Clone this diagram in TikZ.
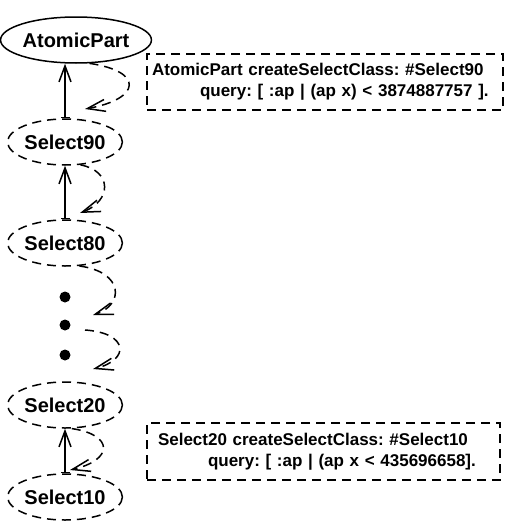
\documentclass[tikz,border=0pt]{standalone}
\usepackage{fontspec}
\setmainfont{Liberation Sans}
\usetikzlibrary{shapes.geometric, arrows.meta}

\begin{document}
\frenchspacing
\begin{tikzpicture}[x=1pt, y=-1pt,
		classnode/.style={draw, ellipse, line width=1.5pt, minimum width=106pt, minimum height=46pt, inner sep=0pt, font=\fontsize{20}{23}\selectfont\bfseries},
		selnode/.style={classnode, dash pattern=on 9pt off 6pt},
		skipdot/.style={circle, fill, inner sep=0pt, minimum size=11pt},
		subarrow/.style={line width=1.5pt, {Bar[width=9pt]}-{Straight Barb[length=16pt, width=12pt]}},
		makearrow/.style={line width=1.5pt, dash pattern=on 9pt off 6pt, -{Straight Barb[length=18pt, width=12pt]}},
		notebox/.style={draw, line width=1.5pt, dash pattern=on 9pt off 6pt, align=left, font=\fontsize{17}{21}\selectfont\bfseries}]
				\useasboundingbox (0,0) rectangle (509,522);
				
				% Draw the classes
				\node[classnode, minimum width=126pt] (atomic) at (76,40) {AtomicPart};
				\node[selnode] (s90) at (65,142) {Select90};
				\node[selnode] (s80) at (65,243) {Select80};
				\node[selnode] (s20) at (65,405) {Select20};
				\node[selnode] (s10) at (65,497) {Select10};
				
				% Dots for the left out classes
				\foreach \y/\n in {297/1, 325/2, 355/3}
					\node[skipdot] (dot\n) at (65,\y) {};
				
				% Subclass arrows
				\draw[subarrow] (s90.north) -- (s90.north |- atomic.south);
				\draw[subarrow] (s80.north) -- (s90.south);
				\draw[subarrow] (s10.north) -- (s20.south);
				
				% Ends of the createSelectClass arrows
				\coordinate (tip1) at (85,109);
				\coordinate (tip2) at (80,213);
				\coordinate (tip3) at (93,315);
				\coordinate (from4) at (85,330);
				\coordinate (tip4) at (93,369);
				\coordinate (tip5) at (70,470);
				
				\draw[makearrow] (atomic.-60) .. controls +(55,8) and +(56,-10) .. (tip1);
				\draw[makearrow] (s90.-56) .. controls +(32,6) and +(32,-12) .. (tip2);
				\draw[makearrow] (s80.-58) .. controls +(45,6) and +(31,-10) .. (tip3);
				\draw[makearrow] (from4) .. controls +(44,3) and +(37,-9) .. (tip4);
				\draw[makearrow] (s20.-74) .. controls +(42,6) and +(44,-10) .. (tip5);
				
				% Notes with the queries
				\node[notebox, minimum width=356pt, minimum height=56pt, inner xsep=5pt, text width=346pt] (q90) at (325,82)
					{AtomicPart createSelectClass: \#Select90\\\hspace*{48pt}query: [ :ap | (ap x) < 3874887757 ].};
				\node[notebox, minimum width=353pt, minimum height=57pt, inner xsep=11pt, text width=331pt] (q10) at (323.5,451.5)
					{Select20 createSelectClass: \#Select10\\\hspace*{50pt}query: [ :ap | (ap x < 435696658].};
			\end{tikzpicture}
\end{document}
